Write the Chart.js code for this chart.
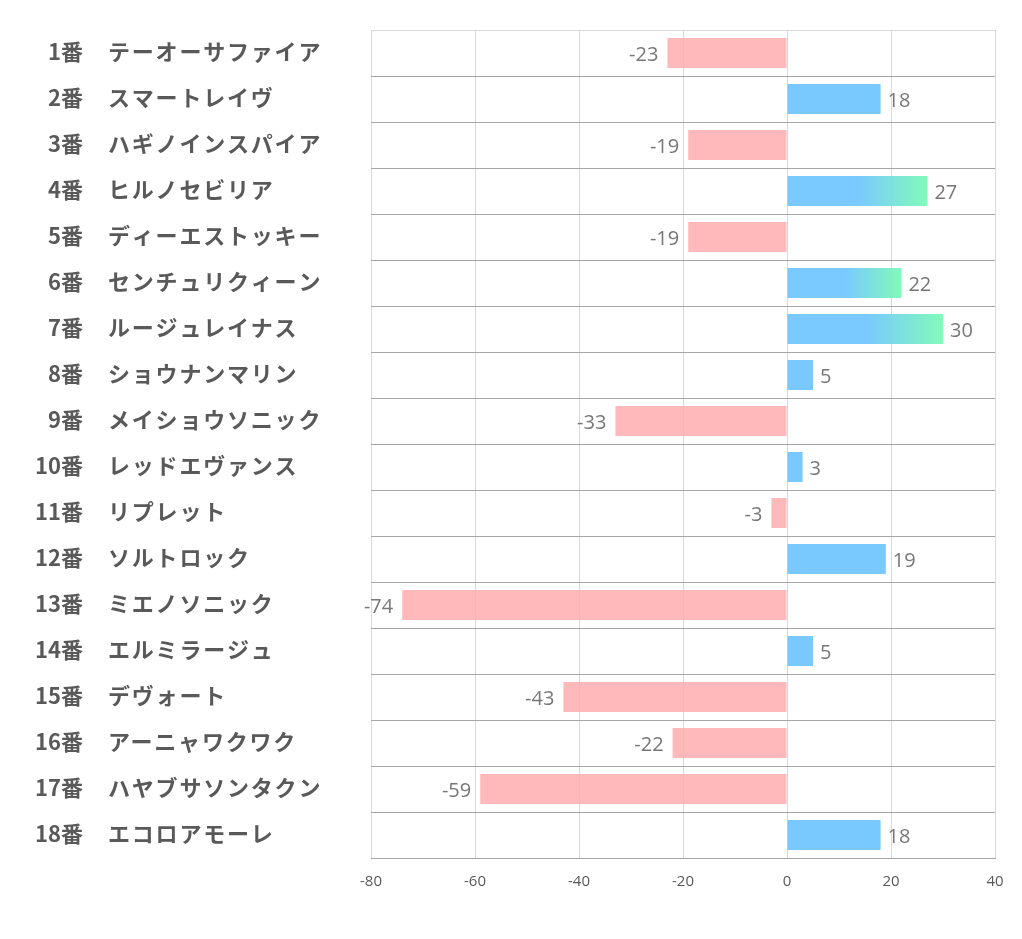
<!DOCTYPE html>
<html>
<head>
<meta charset="utf-8">
<script src="https://cdn.jsdelivr.net/npm/chart.js@4/dist/chart.umd.min.js"></script>
<style>
  html, body { margin: 0; padding: 0; background: #fff; }
  #wrap { width: 1022px; height: 939px; }
</style>
</head>
<body>
<div id="wrap"><canvas id="chart"></canvas></div>
<script>
const numbers = ["1番","2番","3番","4番","5番","6番","7番","8番","9番","10番","11番","12番","13番","14番","15番","16番","17番","18番"];
const names = ["テーオーサファイア","スマートレイヴ","ハギノインスパイア","ヒルノセビリア","ディーエストッキー","センチュリクィーン","ルージュレイナス","ショウナンマリン","メイショウソニック","レッドエヴァンス","リプレット","ソルトロック","ミエノソニック","エルミラージュ","デヴォート","アーニャワクワク","ハヤブサソンタクン","エコロアモーレ"];
const values = [-23, 18, -19, 27, -19, 22, 30, 5, -33, 3, -3, 19, -74, 5, -43, -22, -59, 18];
const xTicks = [-80, -60, -40, -20, 0, 20, 40];

const BLUE = "rgba(110,196,255,0.92)";
const GREEN = "rgba(118,250,180,0.92)";
const PINK = "rgba(255,168,170,0.8)";

function barColor(c){
    const v = values[c.dataIndex];
    if (v < 0) return PINK;
    if (v <= 20) return BLUE;
    const chart = c.chart;
    if (!chart.chartArea) return BLUE;
    const x = chart.scales.x;
    const x0 = x.getPixelForValue(0), x1 = x.getPixelForValue(v);
    const g = chart.ctx.createLinearGradient(x0, 0, x1, 0);
    g.addColorStop(0, BLUE);
    g.addColorStop(0.5, BLUE);
    g.addColorStop(1, GREEN);
    return g;
}

// left-side labels: number + horse name
const rowLabels = {
    id: "rowLabels",
    afterDraw(chart){
        const ctx = chart.ctx;
        const y = chart.scales.y;
        ctx.save();
        ctx.font = "bold 22px 'Noto Sans CJK JP'";
        ctx.fillStyle = "#595959";
        ctx.textBaseline = "middle";
        numbers.forEach((n, i) => {
            const py = y.getPixelForValue(i) - 1;
            ctx.textAlign = "right";
            ctx.fillText(n, 83, py);
            ctx.textAlign = "left";
            ctx.letterSpacing = "1.8px";
            ctx.fillText(names[i], 108, py);
            ctx.letterSpacing = "0px";
        });
        ctx.restore();
    }
};

// value labels at bar ends
const valueLabels = {
    id: "valueLabels",
    afterDatasetsDraw(chart){
        const ctx = chart.ctx;
        const meta = chart.getDatasetMeta(0);
        ctx.save();
        ctx.font = "20px 'Open Sans'";
        ctx.fillStyle = "#777777";
        ctx.textBaseline = "middle";
        meta.data.forEach((bar, i) => {
            const v = values[i];
            if (v < 0){
                ctx.textAlign = "right";
                ctx.fillText(String(v), bar.x - 9, bar.y + 2);
            } else {
                ctx.textAlign = "left";
                ctx.fillText(String(v), bar.x + 7, bar.y + 2);
            }
        });
        ctx.restore();
    }
};

new Chart(document.getElementById("chart"), {
    type: "bar",
    data: {
        labels: numbers,
        datasets: [{
            data: values,
            backgroundColor: barColor,
            borderWidth: 0,
            barPercentage: 0.652,
            categoryPercentage: 1
        }]
    },
    options: {
        indexAxis: "y",
        responsive: true,
        maintainAspectRatio: false,
        animation: false,
        layout: { padding: { left: 371, right: 27, top: 30, bottom: 0 } },
        plugins: { legend: { display: false }, tooltip: { enabled: false } },
        scales: {
            x: {
                min: -80, max: 40,
                afterBuildTicks: s => { s.ticks = xTicks.map(v => ({ value: v })); },
                afterFit: s => { s.height = 81; },
                grid: { color: "#d9d9d9", drawTicks: false },
                border: { color: "#a6a6a6" },
                ticks: { color: "#595959", font: { family: "Open Sans", size: 15 }, padding: 15 }
            },
            y: {
                afterFit: s => { s.width = 0; },
                ticks: { display: false },
                grid: {
                    offset: true,
                    drawTicks: false,
                    color: c => c.index === 0 ? "#d9d9d9" : "#a6a6a6"
                },
                border: { display: false }
            }
        }
    },
    plugins: [rowLabels, valueLabels]
});
</script>
</body>
</html>
